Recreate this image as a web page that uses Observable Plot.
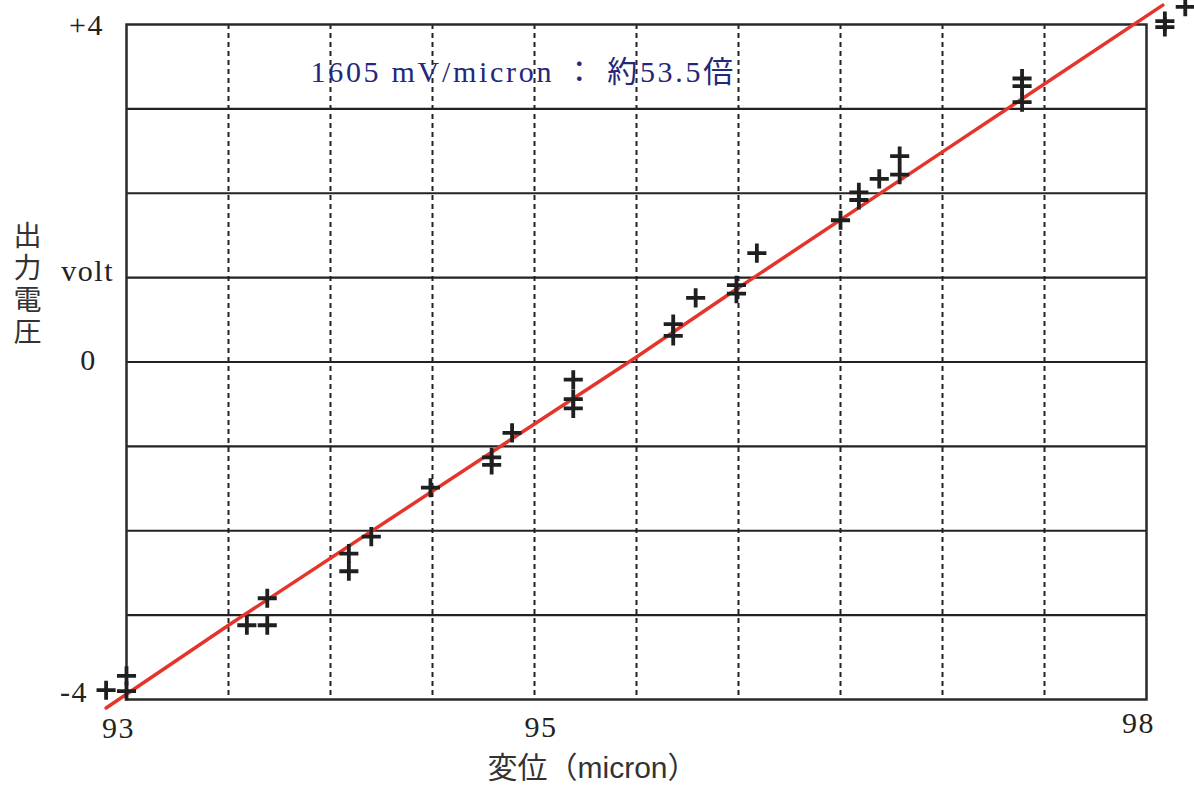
<!DOCTYPE html>
<html>
<head>
<meta charset="utf-8">
<script src="https://cdn.jsdelivr.net/npm/d3@7"></script>
<script src="https://cdn.jsdelivr.net/npm/@observablehq/plot@0.6"></script>
<style>
  html, body { margin: 0; padding: 0; background: #fff; }
  #chart svg { display: block; }
</style>
</head>
<body>
<div id="chart"></div>
<script>
// Measured points (displacement in micron, output voltage in volt)
const xPoints = [92.90, 93.00, 93.00, 93.59, 93.69, 93.69, 94.09, 94.09, 94.20, 94.49,
                 94.79, 94.79, 94.89, 95.19, 95.19, 95.19, 95.68, 95.68, 95.79, 95.99,
                 95.99, 96.09, 96.50, 96.59, 96.59, 96.69, 96.79, 96.79, 97.39, 97.39,
                 97.39, 98.09, 98.09, 98.19];
const yPoints = [-3.89, -3.72, -3.90, -3.12, -3.12, -2.80, -2.27, -2.48, -2.07, -1.49,
                 -1.13, -1.22, -0.84, -0.21, -0.44, -0.55, 0.45, 0.31, 0.76, 0.91,
                 0.81, 1.29, 1.68, 2.01, 1.92, 2.17, 2.44, 2.22, 3.36, 3.27,
                 3.08, 4.04, 3.97, 4.21];

// Fitted line (1605 mV/micron)
const lineX = [92.90, 93.50, 95.50, 96.00, 97.00, 98.08];
const lineY = [-4.10, -3.12, 0.06, 0.88, 2.49, 4.23];

// Grid
const xGrid = [93.5, 94, 94.5, 95, 95.5, 96, 96.5, 97, 97.5];
const yGrid = [-3, -2, -1, 0, 1, 2, 3];

// Tick labels
const xTickValues = [93, 95, 98];
const xTickLabels = ["93", "95", "98"];
const yTickValues = [4, 1, 0, -4];
const yTickLabels = ["+4", "volt", "0", "-4"];

const annotation = "1605 mV/micron ： 約53.5倍";
const yTitle = "出\n力\n電\n圧";
const xTitle = "変位（micron）";

const points = xPoints.map((x, i) => ({x, y: yPoints[i]}));
const fit = lineX.map((x, i) => ({x, y: lineY[i]}));

const serif = "'Liberation Serif', 'Times New Roman', 'Noto Sans CJK JP', serif";
const sans = "'Liberation Sans', 'Noto Sans CJK JP', sans-serif";

const xLab = (i, dx, dy) => Plot.text([xTickLabels[i]], {
  x: xTickValues[i], frameAnchor: "bottom", text: d => d, dx, dy,
  fontSize: 30, fontFamily: serif, fill: "#222", textAnchor: "middle", lineAnchor: "middle"
});
const yLab = (i, dx, dy, anchor) => Plot.text([yTickLabels[i]], {
  y: yTickValues[i], frameAnchor: "left", text: d => d, dx, dy,
  fontSize: 30, fontFamily: serif, fill: "#222", textAnchor: anchor, lineAnchor: "middle"
});

const chart = Plot.plot({
  width: 1194,
  height: 787,
  marginLeft: 126,
  marginRight: 48,
  marginTop: 24,
  marginBottom: 88,
  x: {domain: [93, 98], axis: null},
  y: {domain: [-4, 4], axis: null},
  style: {background: "#fff", overflow: "visible"},
  marks: [
    Plot.ruleX(xGrid, {stroke: "#222", strokeWidth: 2, strokeDasharray: "5,4"}),
    Plot.ruleY(yGrid, {stroke: "#222", strokeWidth: 2.2}),
    Plot.frame({stroke: "#2a2a2a", strokeWidth: 2.5}),
    Plot.line(fit, {x: "x", y: "y", stroke: "#e5352b", strokeWidth: 3.5}),
    Plot.dot(points, {x: "x", y: "y", symbol: "plus", r: 6.2, stroke: "#1f1f1f", strokeWidth: 3.8}),
    // tick labels
    xLab(0, -8, 29),
    xLab(1, 6.5, 28),
    xLab(2, -8, 24),
    yLab(0, -22.5, 1, "end"),
    yLab(1, -12.5, -6, "end"),
    yLab(2, -38, -2, "middle"),
    yLab(3, -38.5, -7, "end"),
    // annotation
    Plot.text([annotation], {
      frameAnchor: "top-left", dx: 184, dy: 48, text: d => d,
      textAnchor: "start", lineAnchor: "middle",
      fontSize: 30, fontFamily: serif, fill: "#23287a"
    }),
    // axis titles
    Plot.text([yTitle], {
      frameAnchor: "left", dx: -99, dy: -78, text: d => d,
      textAnchor: "middle", lineAnchor: "middle", lineHeight: 1.14,
      fontSize: 28, fontFamily: sans, fill: "#333"
    }),
    Plot.text([xTitle], {
      frameAnchor: "bottom", dx: -44, dy: 69, text: d => d,
      textAnchor: "middle", lineAnchor: "middle",
      fontSize: 30, fontFamily: sans, fill: "#333"
    })
  ]
});

// letter spacing to match the wide typesetting of the original
const tickSet = new Set([...xTickLabels, ...yTickLabels]);
d3.select(chart).selectAll("text").each(function() {
  const t = this.textContent;
  if (tickSet.has(t)) this.style.letterSpacing = "1.5px";
  else if (t === annotation) this.style.letterSpacing = "2.7px";
});

document.getElementById("chart").append(chart);
</script>
</body>
</html>
